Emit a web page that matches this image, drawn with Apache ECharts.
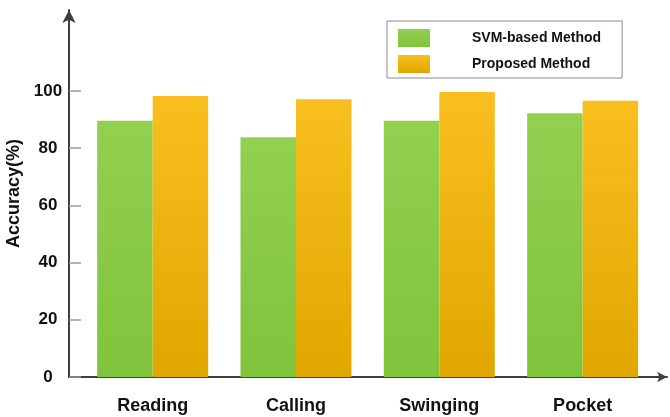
<!DOCTYPE html>
<html>
<head>
<meta charset="utf-8">
<script src="https://cdn.jsdelivr.net/npm/echarts@6/dist/echarts.min.js"></script>
<style>
  html, body { margin: 0; padding: 0; background: #fff; }
  #chart { width: 670px; height: 417px; }
</style>
</head>
<body>
<div id="chart"></div>
<script>
// Activity categories and accuracy (%) per method
const categories = ['Reading', 'Calling', 'Swinging', 'Pocket'];
const svmValues = [89.6, 83.8, 89.6, 92.2];
const proposedValues = [98.2, 97.1, 99.6, 96.6];
const yTicks = [0, 20, 40, 60, 80, 100];

const FONT = '"Liberation Sans", Arial, Helvetica, sans-serif';
const AXIS_COLOR = '#3f3f3f';

const greenFill = new echarts.graphic.LinearGradient(0, 0, 0, 1, [
  { offset: 0, color: '#92d050' },
  { offset: 1, color: '#80c33c' }
]);
const orangeFill = new echarts.graphic.LinearGradient(0, 0, 0, 1, [
  { offset: 0, color: '#f8bf1f' },
  { offset: 1, color: '#e0a700' }
]);

const chart = echarts.init(document.getElementById('chart'), null, { renderer: 'canvas' });

chart.setOption({
  animation: false,
  backgroundColor: '#ffffff',
  textStyle: { fontFamily: FONT },
  legend: {
    orient: 'vertical',
    left: 387,
    top: 21,
    itemWidth: 32,
    itemHeight: 18,
    itemGap: 8,
    padding: [8, 21, 5, 11],
    borderColor: '#8c8c8c',
    borderWidth: 1,
    icon: 'rect',
    textStyle: {
      fontFamily: FONT,
      fontSize: 14,
      fontWeight: 'bold',
      color: '#111',
      padding: [0, 0, 0, 37]
    },
    data: ['SVM-based Method', 'Proposed Method']
  },
  grid: [
    // bars
    { left: 81, right: 15.7, top: 10, bottom: 40, containLabel: false, outerBoundsMode: 'none' },
    // horizontal axis line with arrow
    { left: 69, right: 3, top: 10, bottom: 40, containLabel: false, outerBoundsMode: 'none' }
  ],
  xAxis: [
    {
      type: 'category',
      gridIndex: 0,
      data: categories,
      axisLine: { show: false },
      axisTick: { show: false },
      axisLabel: {
        margin: 20,
        fontFamily: FONT,
        fontSize: 18,
        fontWeight: 'bold',
        color: '#111'
      }
    },
    {
      type: 'value',
      gridIndex: 1,
      min: 0,
      max: 1,
      axisLine: {
        show: true,
        symbol: ['none', 'arrow'],
        symbolSize: [8, 10],
        lineStyle: { color: AXIS_COLOR, width: 2 }
      },
      axisTick: { show: false },
      axisLabel: { show: false },
      splitLine: { show: false }
    }
  ],
  yAxis: [
    {
      type: 'value',
      gridIndex: 0,
      min: 0,
      max: 128.3,
      interval: 20,
      offset: 12,
      name: 'Accuracy(%)',
      nameLocation: 'middle',
      nameGap: 36,
      nameTextStyle: {
        fontFamily: FONT,
        fontSize: 18,
        fontWeight: 'bold',
        color: '#111'
      },
      axisLine: {
        show: true,
        symbol: ['none', 'arrow'],
        symbolSize: [10, 13],
        lineStyle: { color: AXIS_COLOR, width: 2 }
      },
      axisTick: {
        show: true,
        inside: true,
        length: 12,
        customValues: yTicks,
        lineStyle: { color: '#9a9a9a', width: 1.5 }
      },
      axisLabel: {
        margin: 21,
        align: 'center',
        customValues: yTicks,
        fontFamily: FONT,
        fontSize: 17,
        fontWeight: 'bold',
        color: '#111'
      },
      splitLine: { show: false }
    },
    {
      type: 'value',
      gridIndex: 1,
      show: false
    }
  ],
  series: [
    {
      name: 'SVM-based Method',
      type: 'bar',
      xAxisIndex: 0,
      yAxisIndex: 0,
      data: svmValues,
      barWidth: 55.5,
      barGap: '0%',
      itemStyle: { color: greenFill }
    },
    {
      name: 'Proposed Method',
      type: 'bar',
      xAxisIndex: 0,
      yAxisIndex: 0,
      data: proposedValues,
      barWidth: 55.5,
      barGap: '0%',
      itemStyle: { color: orangeFill }
    }
  ]
});
</script>
</body>
</html>
